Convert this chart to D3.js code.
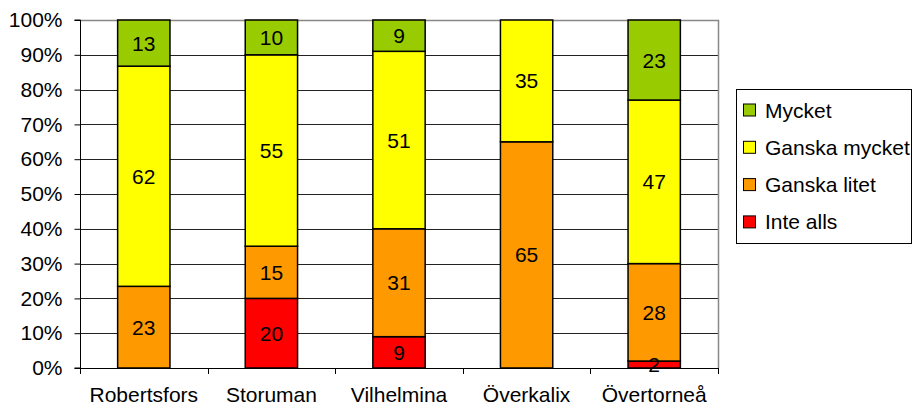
<!DOCTYPE html>
<html><head><meta charset="utf-8">
<script src="https://cdn.jsdelivr.net/npm/d3@7"></script>
<style>body{margin:0;background:#fff}svg{display:block;font-family:"Liberation Sans",Arial,sans-serif}</style>
</head><body><svg id="c" width="914" height="407"></svg>
<script>
const categories = ["Robertsfors","Storuman","Vilhelmina","Överkalix","Övertorneå"];
const seriesNames = ["Inte alls","Ganska litet","Ganska mycket","Mycket"];
const inteAlls     = [0, 20, 9, 0, 2];
const ganskaLitet  = [23, 15, 31, 65, 28];
const ganskaMycket = [62, 55, 51, 35, 47];
const mycket       = [13, 10, 9, 0, 23];
const colors = ["#FF0000","#FF9900","#FFFF00","#99CC00"];
const yTicks = [0,0.1,0.2,0.3,0.4,0.5,0.6,0.7,0.8,0.9,1];

const FS = 21;
const svg = d3.select("#c");
const m = {l:80, t:20, r:718, b:368};
const x = d3.scaleBand().domain(categories).range([m.l, m.r]).paddingInner(0.59).paddingOuter(0.295);
const y = d3.scaleLinear().domain([0,1]).range([m.b, m.t]);

const rows = categories.map((c,i)=>{
  const vals=[inteAlls[i],ganskaLitet[i],ganskaMycket[i],mycket[i]];
  const tot=d3.sum(vals);
  const o={cat:c}; seriesNames.forEach((s,j)=>{o[s]=vals[j]/tot; o[s+"_raw"]=vals[j];});
  return o;
});
const stack = d3.stack().keys(seriesNames)(rows);

// gridlines
svg.append("g").selectAll("line").data(yTicks.slice(1,-1)).join("line")
  .attr("x1",m.l).attr("x2",m.r).attr("y1",d=>Math.round(y(d))+0.5).attr("y2",d=>Math.round(y(d))+0.5)
  .attr("stroke","#222").attr("stroke-width",1);
// plot border top/right
svg.append("path").attr("d",`M${m.l},${m.t+0.5}H${m.r+0.5}V${m.b}`).attr("fill","none").attr("stroke","#888").attr("stroke-width",1.5);

// bars
stack.forEach((layer,j)=>{
  const g=svg.append("g");
  layer.forEach((d,i)=>{
    if(d[1]-d[0]<=0) return;
    g.append("rect").attr("x",x(categories[i])).attr("width",x.bandwidth())
      .attr("y",y(d[1])).attr("height",y(d[0])-y(d[1]))
      .attr("fill",colors[j]).attr("stroke","#000").attr("stroke-width",1.5);
  });
});
// labels
stack.forEach((layer,j)=>{
  layer.forEach((d,i)=>{
    const raw=rows[i][seriesNames[j]+"_raw"];
    if(!raw) return;
    svg.append("text").attr("x",x(categories[i])+x.bandwidth()/2).attr("y",(y(d[0])+y(d[1]))/2)
      .attr("dy","0.36em").attr("text-anchor","middle").attr("font-size",FS).attr("fill","#000").text(raw);
  });
});

// y axis
const ya = svg.append("g").attr("transform",`translate(${m.l+0.5},0)`)
  .call(d3.axisLeft(y).tickValues(yTicks).tickFormat(d3.format(".0%")).tickSize(6).tickPadding(12));
ya.select(".domain").attr("stroke","#000").attr("d",`M-6,${m.t}H0V${m.b}H-6`);
ya.selectAll(".tick line").attr("stroke","#000");
ya.selectAll("text").attr("font-size",FS).attr("font-family","Liberation Sans, Arial, sans-serif").attr("fill","#000");

// x axis
const xg = svg.append("g");
xg.append("line").attr("x1",m.l).attr("x2",m.r).attr("y1",m.b+0.5).attr("y2",m.b+0.5).attr("stroke","#000");
const step = (m.r-m.l)/categories.length;
xg.selectAll(".t").data(d3.range(categories.length+1)).join("line")
  .attr("x1",i=>Math.round(m.l+i*step)+0.5).attr("x2",i=>Math.round(m.l+i*step)+0.5)
  .attr("y1",m.b).attr("y2",m.b+6).attr("stroke","#000");
xg.selectAll("text").data(categories).join("text")
  .attr("x",d=>x(d)+x.bandwidth()/2).attr("y",m.b+34).attr("text-anchor","middle")
  .attr("font-size",FS).attr("fill","#000").text(d=>d);

// legend
const lg = svg.append("g");
lg.append("rect").attr("x",736.5).attr("y",89.5).attr("width",175).attr("height",154).attr("fill","#fff").attr("stroke","#000");
const legItems = seriesNames.slice().reverse();
const legCols = colors.slice().reverse();
legItems.forEach((s,i)=>{
  const cy = 110 + i*37.3;
  lg.append("rect").attr("x",743.5).attr("y",cy-6).attr("width",12).attr("height",12).attr("fill",legCols[i]).attr("stroke","#000");
  lg.append("text").attr("x",765).attr("y",cy).attr("dy","0.36em").attr("font-size",FS).text(s);
});
</script></body></html>
